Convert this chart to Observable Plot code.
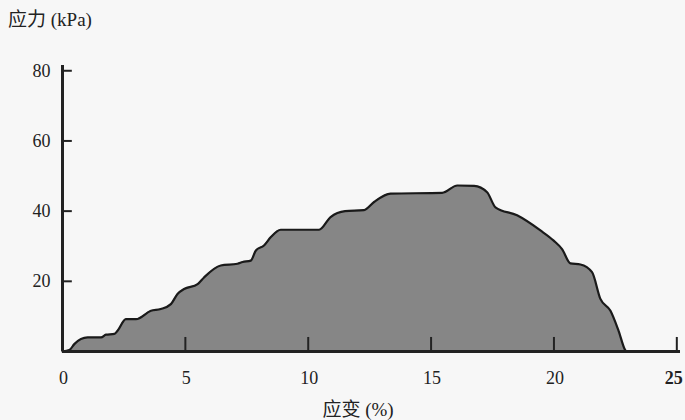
<!DOCTYPE html>
<html>
<head>
<meta charset="utf-8">
<script src="https://cdn.jsdelivr.net/npm/d3@7"></script>
<script src="https://cdn.jsdelivr.net/npm/@observablehq/plot@0.6"></script>
<style>
  html, body { margin: 0; padding: 0; background: #f7f7f7; }
  #wrap { position: relative; width: 685px; height: 420px; overflow: hidden; }
  #title { position: absolute; left: 8px; top: 4px; font-family: "Liberation Serif", "Noto Sans CJK SC", serif; font-size: 19px; color: #222; }
  #xlabel { position: absolute; left: 0; width: 716px; top: 394px; text-align: center; font-family: "Liberation Serif", "Noto Sans CJK SC", serif; font-size: 19px; color: #222; }
</style>
</head>
<body>
<div id="wrap">
  <div id="chart"></div>
  <div id="title">应力 (kPa)</div>
  <div id="xlabel">应变 (%)</div>
</div>
<script>
const strain = [0, 0.28, 0.48, 1.02, 1.57, 1.77, 2.11, 2.24, 2.58, 2.99, 3.6, 4.0, 4.41, 4.68, 4.95, 5.5, 5.76, 6.44, 7.12, 7.33, 7.66, 7.87, 8.2, 8.48, 8.88, 10.44, 10.91, 11.5, 12.27, 12.68, 13.35, 15.45, 16.07, 16.75, 17.28, 17.62, 18.5, 19.45, 19.99, 20.33, 20.67, 21.08, 21.55, 21.89, 22.3, 22.63, 22.9, 22.95];
const stress = [0, 0.4, 2.1, 4.0, 4.0, 4.8, 5.0, 5.9, 9.2, 9.2, 11.6, 12.1, 13.5, 16.4, 17.8, 19.2, 21.1, 24.5, 25.0, 25.5, 25.9, 28.8, 30.2, 32.6, 34.7, 34.7, 38.3, 40.0, 40.3, 42.6, 45.0, 45.2, 47.3, 47.2, 45.4, 41.1, 38.8, 34.5, 31.6, 29.2, 25.1, 24.8, 22.6, 15.0, 11.6, 5.9, 0.4, 0];
const xTicks = [0, 5, 10, 15, 20, 25];
const yTicks = [20, 40, 60, 80];

const data = strain.map((x, i) => ({x, y: stress[i]}));
const font = "Liberation Serif, Noto Sans CJK SC, serif";

const chart = Plot.plot({
  width: 685,
  height: 420,
  marginTop: 65,
  marginBottom: 69,
  marginLeft: 62,
  marginRight: 5,
  style: {background: "transparent", fontFamily: font},
  x: {domain: [0, 25.15], axis: null},
  y: {domain: [0, 81.5], axis: null},
  marks: [
    Plot.areaY(data, {x: "x", y: "y", fill: "#868686", curve: "monotone-x"}),
    Plot.line(data, {x: "x", y: "y", stroke: "#1a1a1a", strokeWidth: 2.2, curve: "monotone-x"}),
    Plot.ruleX(xTicks.filter(d => d > 0), {x: d => d, y1: 0, y2: 4, stroke: "#222", strokeWidth: 2}),
    Plot.ruleY(yTicks, {y: d => d, x1: 0, x2: 0.4, stroke: "#222", strokeWidth: 2}),
    Plot.ruleY([0], {stroke: "#222", strokeWidth: 3}),
    Plot.ruleX([0], {stroke: "#222", strokeWidth: 3}),
    Plot.text(yTicks, {x: 0, y: d => d, text: d => String(d), dx: -12, textAnchor: "end", fontSize: 18, fill: "#222", fontFamily: font}),
    Plot.text(xTicks.filter(d => d < 25), {x: d => d, y: 0, text: d => String(d), dy: 27, dx: 1, fontSize: 18, fill: "#222", fontFamily: font}),
    Plot.text(xTicks.filter(d => d === 25), {x: d => d, y: 0, text: d => String(d), dy: 27, dx: -3, fontSize: 18, fill: "#222", fontFamily: font, fontWeight: "bold"})
  ]
});
document.getElementById("chart").appendChild(chart);
</script>
</body>
</html>
